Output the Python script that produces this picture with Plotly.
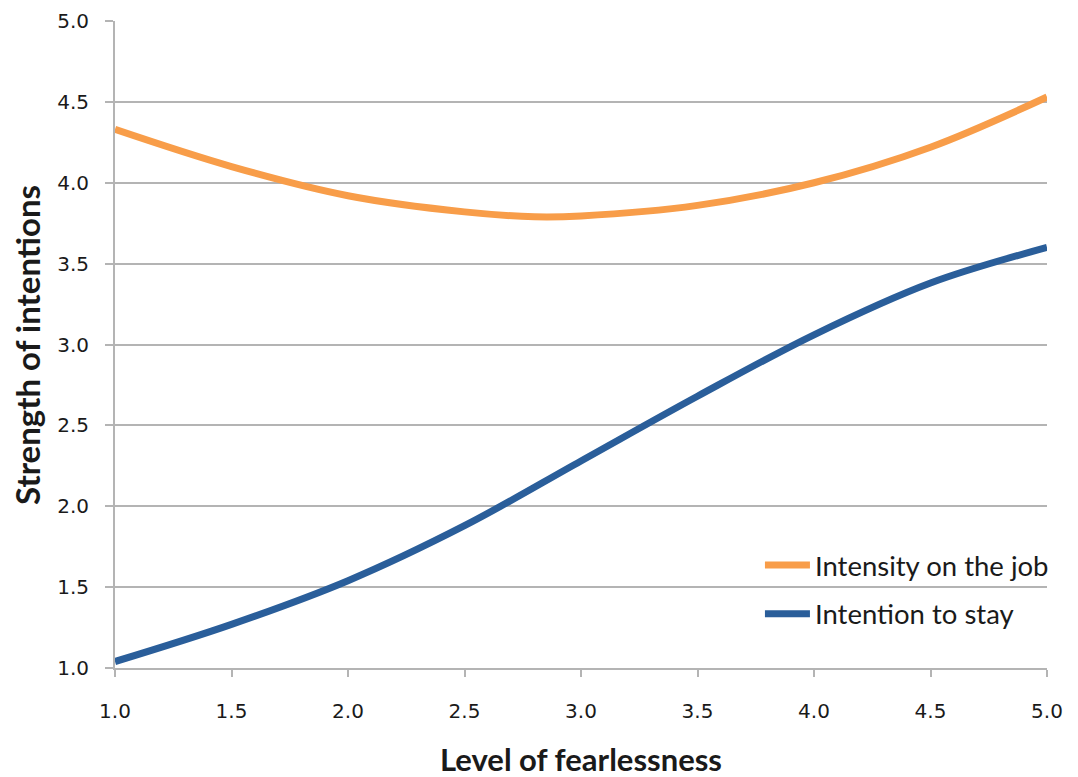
import plotly.graph_objects as go

fearlessness = [1.0, 1.5, 2.0, 2.5, 2.8, 3.0, 3.5, 4.0, 4.5, 5.0]
intensity_on_job = [4.33, 4.10, 3.92, 3.82, 3.79, 3.795, 3.86, 4.0, 4.22, 4.53]
x_stay = [1.0, 1.5, 2.0, 2.5, 3.0, 3.5, 4.0, 4.5, 5.0]
intention_to_stay = [1.04, 1.27, 1.54, 1.88, 2.28, 2.68, 3.06, 3.38, 3.60]
tick_vals = [1.0, 1.5, 2.0, 2.5, 3.0, 3.5, 4.0, 4.5, 5.0]
tick_text = ["1.0", "1.5", "2.0", "2.5", "3.0", "3.5", "4.0", "4.5", "5.0"]

ORANGE = "#F89D49"
BLUE = "#2A5E9A"
GRID = "#B4B4B4"
TEXT = "#1a1a1a"
TITLE_FONT = "Lato, Open Sans, sans-serif"

fig = go.Figure()
fig.add_trace(go.Scatter(x=fearlessness, y=intensity_on_job, mode="lines",
                         name="Intensity on the job", legendgroup="a",
                         line=dict(color=ORANGE, width=7, shape="spline", smoothing=1.0)))
fig.add_trace(go.Scatter(x=x_stay, y=intention_to_stay, mode="lines",
                         name="Intention to stay", legendgroup="b",
                         line=dict(color=BLUE, width=7, shape="spline", smoothing=1.0)))

fig.update_layout(
    width=1070, height=769,
    margin=dict(l=107, r=31, t=13, b=109),
    paper_bgcolor="white", plot_bgcolor="white",
    showlegend=True,
    legend=dict(x=0.692, y=0.197, xanchor="left", yanchor="top",
                font=dict(family=TITLE_FONT, size=27.5, color=TEXT),
                bgcolor="rgba(0,0,0,0)", tracegroupgap=10, itemwidth=45),
    xaxis=dict(range=[1.0, 5.0], tickvals=tick_vals, ticktext=tick_text,
               showgrid=False, zeroline=False, automargin=False,
               showline=True, linecolor=GRID, linewidth=2,
               ticks="outside", ticklen=7, tickwidth=2, tickcolor=GRID,
               ticklabelstandoff=17,
               tickfont=dict(family="DejaVu Sans, sans-serif", size=20, color=TEXT)),
    yaxis=dict(range=[1.0, 5.0], tickvals=tick_vals, ticktext=tick_text,
               showgrid=True, gridcolor=GRID, gridwidth=2, zeroline=False, automargin=False,
               showline=True, linecolor=GRID, linewidth=2,
               ticks="outside", ticklen=8, tickwidth=2, tickcolor=GRID,
               ticklabelstandoff=12,
               tickfont=dict(family="DejaVu Sans, sans-serif", size=20, color=TEXT)),
    annotations=[
        dict(text="<b>Level of fearlessness</b>", xref="paper", yref="paper",
             x=0.5, y=-0.141, xanchor="center", yanchor="middle", showarrow=False,
             font=dict(family=TITLE_FONT, size=31, color=TEXT)),
        dict(text="<b>Strength of intentions</b>", xref="paper", yref="paper",
             x=-0.095, y=0.5, xanchor="center", yanchor="middle", showarrow=False,
             textangle=-90, font=dict(family=TITLE_FONT, size=33, color=TEXT)),
    ],
)

fig.write_html("out.html")
